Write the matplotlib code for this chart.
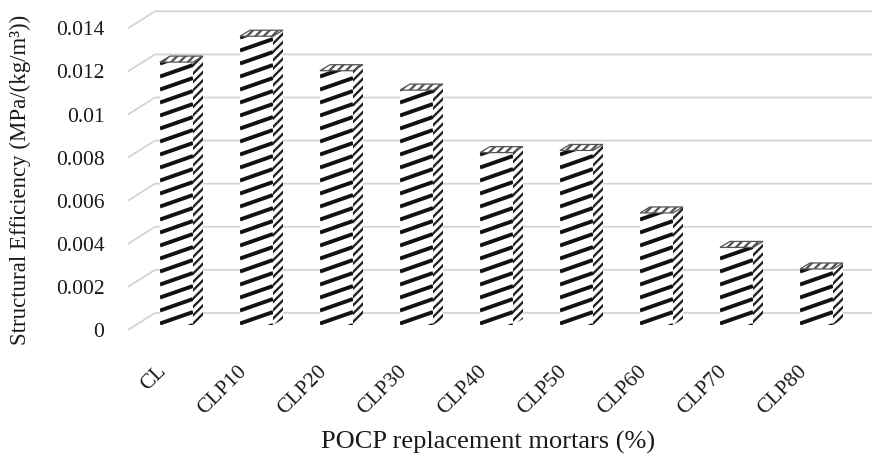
import matplotlib
matplotlib.use("Agg")
import matplotlib.pyplot as plt
import numpy as np
from matplotlib.patches import Polygon
from matplotlib.collections import LineCollection

# ---- data ----
categories = ["CL", "CLP10", "CLP20", "CLP30", "CLP40", "CLP50", "CLP60", "CLP70", "CLP80"]
values = [0.0122, 0.0134, 0.0118, 0.0109, 0.0080, 0.0081, 0.0052, 0.0036, 0.0026]
yticks = [0, 0.002, 0.004, 0.006, 0.008, 0.010, 0.012, 0.014]
ytick_labels = ["0", "0.002", "0.004", "0.006", "0.008", "0.01", "0.012", "0.014"]
xlabel = "POCP replacement mortars (%)"
ylabel = "Structural Efficiency (MPa/(kg/m³))"

plt.rcParams["font.family"] = ["Liberation Serif", "DejaVu Serif"]
plt.rcParams["hatch.linewidth"] = 1.7

FW, FH = 872, 455
fig = plt.figure(figsize=(FW / 100, FH / 100), dpi=100)

# axes geometry (pixels)
L, R, B, T = 128, 872, 330, 5
ax = fig.add_axes([L / FW, (FH - B) / FH, (R - L) / FW, (B - T) / FH])
PX_X = 80.0        # pixels per category
PX_Y = 21550.0     # pixels per unit of value
first_center = 176.5
x0 = -(first_center - L) / PX_X
x1 = (R - first_center) / PX_X
ax.set_xlim(x0, x1)
ax.set_ylim(0, (B - T) / PX_Y)
ax.set_facecolor("none")
for s in ax.spines.values():
    s.set_visible(False)

# depth offsets
DX = 27 / PX_X
DY = 17 / PX_Y
grid_col = "#d4d4d4"
for t in yticks:
    ax.plot([x0, x0 + DX, x1], [t, t + DY, t + DY], color=grid_col, lw=1.3,
            zorder=1, clip_on=False, solid_capstyle="butt")

# bars
x = np.arange(len(categories))
BW = 33 / PX_X
B0 = 5 / PX_Y
SX = 10 / PX_X
SY = 6 / PX_Y
bars = ax.bar(x, values, width=BW, bottom=B0, color="white", linewidth=0, zorder=3)

slope = 0.35 * PX_X / PX_Y
spacing = 13 / PX_Y
for rect, v in zip(bars, values):
    xl = rect.get_x()
    xr = xl + rect.get_width()
    yb = rect.get_y()
    yt = yb + rect.get_height()
    # stripes on front face
    c = yb - slope * BW - spacing
    segs = []
    while c < yt + spacing:
        segs.append([(xl, c), (xr, c + slope * BW)])
        c += spacing
    lc = LineCollection(segs, colors="#111111", linewidths=2.8, zorder=4,
                        capstyle="butt")
    ax.add_collection(lc)
    lc.set_clip_path(rect)
    # side face
    side = Polygon([(xr, yb), (xr + SX, yb + SY), (xr + SX, yt + SY), (xr, yt)],
                   closed=True, facecolor="white", edgecolor="#222222",
                   hatch="////", linewidth=0, zorder=3)
    ax.add_patch(side)
    # top face
    top = Polygon([(xl, yt), (xr, yt), (xr + SX, yt + SY), (xl + SX, yt + SY)],
                  closed=True, facecolor="white", edgecolor="#555555",
                  hatch="////", linewidth=0.9, zorder=5)
    ax.add_patch(top)

# ticks
ax.set_yticks(yticks, ytick_labels)
ax.tick_params(axis="y", length=0, pad=17, labelsize=15.5, labelcolor="#1a1a1a")
ax.set_xticks(x - 6 / PX_X, categories)
ax.tick_params(axis="x", length=0, pad=23, labelsize=15.5, labelcolor="#1a1a1a")
for lab in ax.get_xticklabels():
    lab.set_rotation(45)
    lab.set_ha("right")
    lab.set_va("top")

fig.text(488 / FW, 1 - 442 / FH, xlabel, ha="center", va="center",
         fontsize=19, color="#1a1a1a")
fig.text(20 / FW, 1 - 180 / FH, ylabel, ha="center", va="center",
         rotation=90, fontsize=16.5, color="#1a1a1a")

fig.savefig("out.png", dpi=100)
